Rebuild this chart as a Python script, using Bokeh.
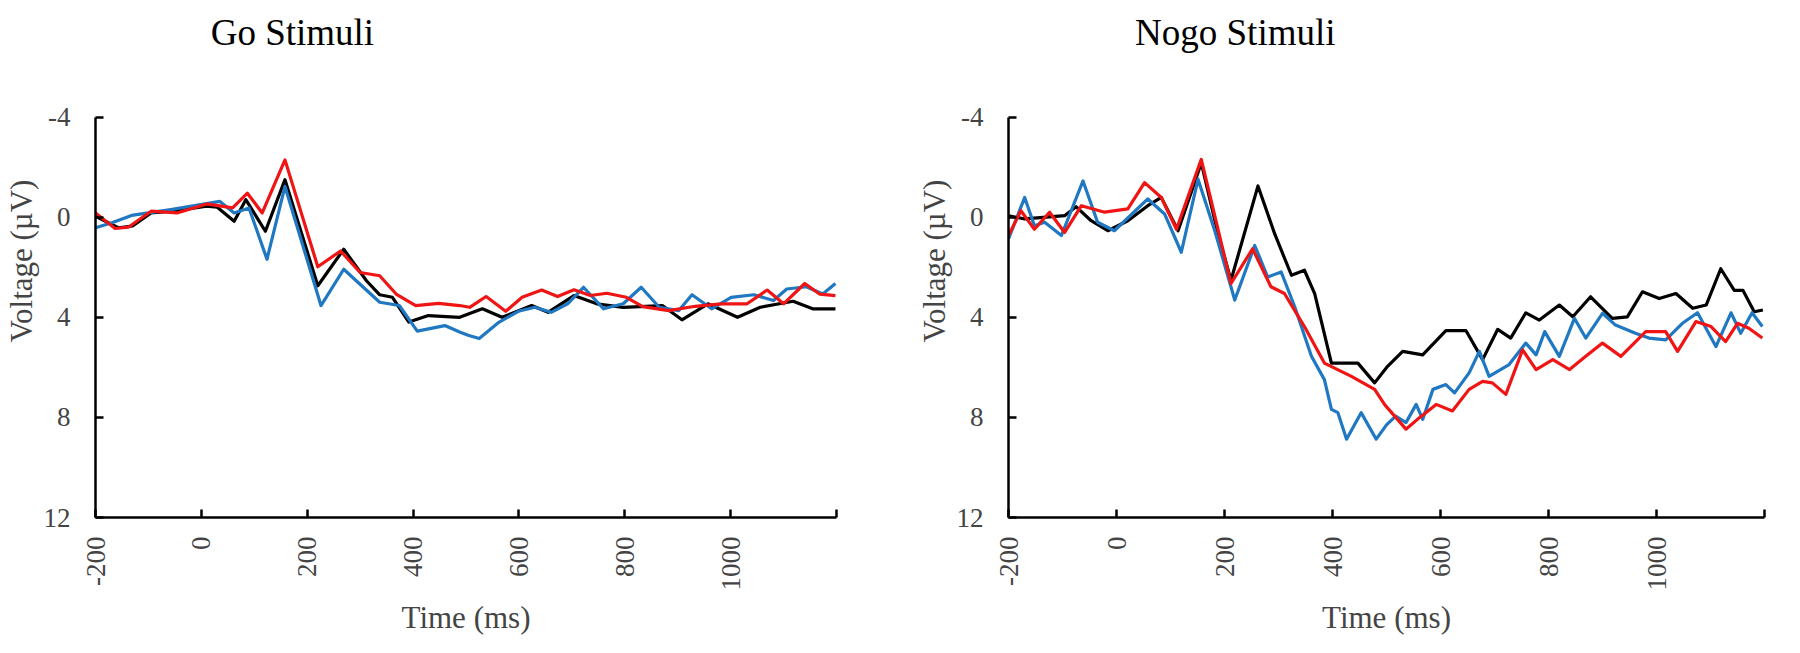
import math
from bokeh.plotting import figure
from bokeh.models import Range1d, FixedTicker
from bokeh.core.properties import value
from bokeh.layouts import row
from bokeh.embed import file_html
from bokeh.resources import INLINE

# ---------------- data ----------------
go_black_t = [-200, -157, -130, -95, -50, 10, 30, 62, 84, 121, 158, 220, 269, 312, 337, 361, 392, 429,
              488, 531, 568, 624, 655, 704, 747, 797, 871, 908, 957, 1013, 1056, 1118, 1155, 1198]
go_black_v = [-0.04, 0.42, 0.35, -0.17, -0.25, -0.44, -0.40, 0.16, -0.70, 0.56, -1.50, 2.74, 1.28, 2.54, 3.10, 3.20, 4.19, 3.93,
              4.00, 3.66, 4.00, 3.53, 3.80, 3.13, 3.46, 3.60, 3.53, 4.10, 3.46, 4.00, 3.60, 3.36, 3.66, 3.66]

go_red_t = [-200, -163, -138, -95, -46, 10, 59, 87, 115, 158, 220, 263, 300, 337, 368, 405, 448, 488, 507, 538,
            575, 606, 643, 673, 704, 735, 766, 803, 834, 883, 933, 982, 1031, 1069, 1100, 1140, 1168, 1198]
go_red_v = [-0.17, 0.45, 0.40, -0.24, -0.17, -0.53, -0.37, -0.96, -0.17, -2.29, 1.98, 1.35, 2.21, 2.34, 3.07, 3.53, 3.44, 3.53, 3.60, 3.17,
            3.76, 3.20, 2.91, 3.17, 2.90, 3.13, 3.04, 3.20, 3.57, 3.73, 3.56, 3.46, 3.46, 2.91, 3.46, 2.65, 3.07, 3.13]

go_blue_t = [-200, -169, -132, -58, 35, 62, 90, 124, 158, 226, 269, 306, 337, 374, 408, 460, 488, 504, 525, 562,
             599, 630, 661, 692, 722, 760, 797, 831, 865, 902, 927, 964, 1001, 1044, 1081, 1106, 1143, 1174, 1198]
go_blue_v = [0.42, 0.22, -0.07, -0.30, -0.63, -0.17, -0.37, 1.68, -1.23, 3.53, 2.08, 2.80, 3.40, 3.53, 4.55, 4.33, 4.59, 4.72, 4.85, 4.20,
             3.76, 3.60, 3.80, 3.46, 2.80, 3.66, 3.46, 2.80, 3.60, 3.73, 3.10, 3.66, 3.20, 3.10, 3.33, 2.87, 2.78, 3.07, 2.65]

nogo_black_t = [-200, -170, -96, -75, -47, -16, 21, 58, 83, 114, 157, 188, 212, 262, 293, 324, 348, 367, 398, 447,
                478, 502, 530, 567, 610, 647, 678, 706, 730, 758, 783, 820, 845, 878, 918, 946, 974, 1005, 1036, 1067,
                1092, 1119, 1144, 1160, 1181, 1197]
nogo_black_v = [-0.06, 0.07, -0.06, -0.42, 0.14, 0.54, 0.14, -0.46, -0.79, 0.54, -2.17, 0.67, 2.52, -1.25, 0.67, 2.32, 2.12, 3.05, 5.83, 5.83,
                6.62, 5.96, 5.36, 5.50, 4.53, 4.53, 5.69, 4.48, 4.83, 3.82, 4.11, 3.51, 3.98, 3.18, 4.04, 3.98, 2.98, 3.25, 3.05, 3.64,
                3.51, 2.06, 2.92, 2.92, 3.78, 3.71]

nogo_red_t = [-200, -177, -152, -124, -96, -65, -22, 21, 52, 83, 111, 157, 212, 252, 286, 311, 348, 385, 435, 478,
              497, 536, 561, 592, 622, 653, 678, 696, 721, 752, 777, 808, 839, 869, 900, 934, 980, 1017, 1039, 1073,
              1101, 1128, 1150, 1171, 1196]
nogo_red_v = [0.73, -0.26, 0.48, -0.20, 0.61, -0.46, -0.20, -0.33, -1.38, -0.79, 0.48, -2.31, 2.65, 1.26, 2.78, 3.05, 4.37, 5.83, 6.36, 6.88,
              7.50, 8.47, 8.01, 7.48, 7.74, 6.88, 6.56, 6.62, 7.08, 5.30, 6.09, 5.69, 6.09, 5.56, 5.03, 5.56, 4.57, 4.57, 5.36, 4.17,
              4.37, 4.97, 4.24, 4.44, 4.83]

nogo_blue_t = [-200, -170, -152, -133, -102, -62, -35, -4, 58, 89, 120, 151, 182, 219, 256, 280, 305, 330, 361, 385,
               398, 410, 426, 453, 481, 500, 517, 536, 555, 567, 586, 610, 626, 653, 672, 690, 727, 758, 777, 793,
               820, 848, 869, 900, 924, 961, 986, 1017, 1048, 1076, 1110, 1138, 1156, 1177, 1196]
nogo_blue_v = [0.87, -0.79, 0.34, 0.20, 0.73, -1.45, 0.20, 0.54, -0.73, -0.13, 1.40, -1.52, 0.54, 3.31, 1.13, 2.39, 2.19, 3.58, 5.56, 6.49,
               7.68, 7.81, 8.87, 7.81, 8.87, 8.30, 7.95, 8.21, 7.48, 8.08, 6.88, 6.69, 7.02, 6.22, 5.36, 6.36, 5.89, 5.03, 5.50, 4.57,
               5.56, 4.04, 4.83, 3.84, 4.31, 4.64, 4.83, 4.90, 4.24, 3.82, 5.17, 3.82, 4.64, 3.82, 4.37]

x_ticks = [-200, 0, 200, 400, 600, 800, 1000, 1200]
x_tick_labels = {-200: "-200", 0: "0", 200: "200", 400: "400", 600: "600", 800: "800", 1000: "1000", 1200: ""}
y_ticks = [-4, 0, 4, 8, 12]
y_tick_labels = {-4: "-4", 0: "0", 4: "4", 8: "8", 12: "12"}
titles = ["Go Stimuli", "Nogo Stimuli"]
title_t = [172, 220]

BLACK = "#000000"
BLUE = "#1f78c1"
RED = "#f01414"
FONT = "Liberation Serif"


def make_panel(series, title, tx, width, border_left, border_right):
    p = figure(width=width, height=637,
               x_range=Range1d(-200, 1200), y_range=Range1d(12, -8.5),
               output_backend="svg", toolbar_location=None,
               min_border_left=border_left, min_border_right=border_right,
               min_border_top=4, min_border_bottom=110)
    p.outline_line_color = None
    p.xgrid.visible = False
    p.ygrid.visible = False
    p.background_fill_color = "white"
    p.border_fill_color = "white"

    for t, v, c in series:
        p.line(t, v, line_color=c, line_width=3.2, line_join="round")

    # panel title drawn as text in the space above the axis
    p.text(x=[tx], y=[-7.38], text=[title], text_font=value(FONT), text_font_size="37px",
           text_align="center", text_baseline="alphabetic", text_color="black")

    xa = p.xaxis[0]
    xa.ticker = FixedTicker(ticks=x_ticks)
    xa.major_label_overrides = x_tick_labels
    xa.major_label_orientation = math.pi / 2
    xa.major_tick_in = 8
    xa.major_tick_out = 0
    xa.minor_tick_in = 0
    xa.minor_tick_out = 0
    xa.axis_line_width = 2.5
    xa.major_tick_line_width = 2.5
    xa.major_label_text_font = FONT
    xa.major_label_text_font_size = "27px"
    xa.major_label_standoff = 19
    xa.axis_label = "Time (ms)"
    xa.axis_label_text_font = FONT
    xa.axis_label_text_font_style = "normal"
    xa.axis_label_text_font_size = "31px"
    xa.axis_label_standoff = 6

    ya = p.yaxis[0]
    ya.ticker = FixedTicker(ticks=y_ticks)
    ya.major_label_overrides = y_tick_labels
    ya.bounds = (-4, 12)
    ya.major_tick_in = 8
    ya.major_tick_out = 0
    ya.minor_tick_in = 0
    ya.minor_tick_out = 0
    ya.axis_line_width = 2.5
    ya.major_tick_line_width = 2.5
    ya.major_label_text_font = FONT
    ya.major_label_text_font_size = "27px"
    ya.major_label_standoff = 25
    ya.axis_label = "Voltage (\u00b5V)"
    ya.axis_label_text_font = FONT
    ya.axis_label_text_font_style = "normal"
    ya.axis_label_text_font_size = "31px"
    ya.axis_label_standoff = 2
    return p


p1 = make_panel([(go_black_t, go_black_v, BLACK), (go_blue_t, go_blue_v, BLUE), (go_red_t, go_red_v, RED)],
                titles[0], title_t[0], 900, 80, 64)
p2 = make_panel([(nogo_black_t, nogo_black_v, BLACK), (nogo_blue_t, nogo_blue_v, BLUE), (nogo_red_t, nogo_red_v, RED)],
                titles[1], title_t[1], 884, 108, 20)

layout = row(p1, p2, spacing=0)
open("out.html", "w").write(file_html(layout, INLINE))
